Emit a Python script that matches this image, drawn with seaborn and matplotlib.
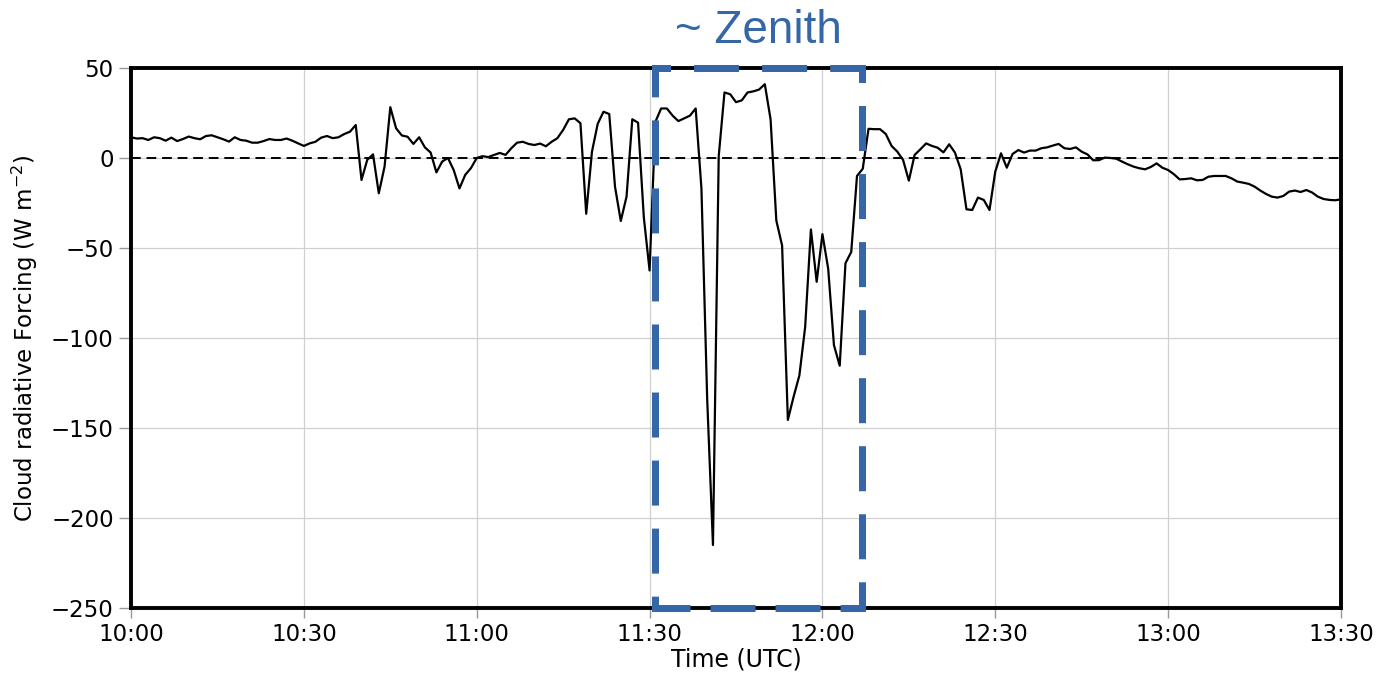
import numpy as np
import pandas as pd
import matplotlib
matplotlib.use("Agg")
import matplotlib.pyplot as plt
import seaborn as sns

# minutes after 10:00 UTC, one sample per minute
minutes = list(range(0, 211))
forcing = [
    11.5, 10.8, 11.0, 10.0, 11.5, 11.0, 9.6, 11.3, 9.4, 10.5,
    11.9, 11.0, 10.4, 12.2, 12.6, 11.5, 10.4, 9.1, 11.5, 10.0,
    9.6, 8.5, 8.5, 9.4, 10.5, 10.0, 10.0, 10.8, 9.6, 8.1,
    6.7, 8.1, 9.0, 11.3, 12.2, 11.0, 11.5, 13.3, 14.6, 18.3,
    -12.2, -1.0, 2.0, -19.6, -4.8, 28.2, 16.5, 12.5, 11.8, 7.8,
    11.5, 5.9, 3.0, -8.0, -2.0, 0.0, -6.7, -16.9, -9.4, -5.6,
    0.0, 1.0, 0.5, 1.7, 2.8, 1.7, 5.4, 8.5, 9.0, 7.8,
    7.2, 8.0, 6.5, 9.0, 11.0, 15.6, 21.5, 22.0, 19.3, -31.0,
    3.5, 19.0, 25.7, 24.4, -16.0, -35.0, -21.5, 21.5, 19.6, -33.0,
    -62.5, 20.0, 27.5, 27.5, 23.5, 20.5, 22.0, 23.5, 27.5, -17.0,
    -134.0, -215.0, 1.0, 36.4, 35.4, 31.0, 32.0, 36.4, 37.0, 38.0,
    41.0, 21.5, -34.8, -48.6, -145.5, -132.6, -120.8, -94.0, -39.7, -68.8,
    -42.3, -61.5, -104.0, -115.4, -58.5, -52.2, -10.0, -6.0, 16.2, 16.0,
    16.0, 13.3, 6.7, 3.5, -1.1, -12.6, 1.7, 4.8, 8.1, 6.7,
    5.7, 3.1, 7.6, 3.0, -6.3, -28.5, -28.9, -22.0, -23.3, -28.9,
    -7.6, 2.6, -5.4, 2.2, 4.4, 3.0, 4.1, 4.1, 5.4, 5.9,
    6.9, 7.8, 5.4, 5.0, 5.9, 3.5, 2.0, -1.3, -1.2, 0.2,
    0.0, -0.4, -2.0, -3.5, -4.8, -5.7, -6.3, -5.0, -3.0, -5.4,
    -6.7, -9.0, -11.9, -11.7, -11.3, -12.4, -12.2, -10.4, -10.0, -10.0,
    -10.0, -11.3, -13.1, -13.7, -14.4, -15.9, -18.1, -20.0, -21.5, -22.0,
    -21.1, -18.7, -18.1, -18.9, -17.8, -19.2, -21.5, -22.8, -23.3, -23.5,
    -23.0,
]
tick_minutes = [0, 30, 60, 90, 120, 150, 180, 210]
tick_labels = ["10:00", "10:30", "11:00", "11:30", "12:00", "12:30", "13:00", "13:30"]
y_ticks = [50, 0, -50, -100, -150, -200, -250]
zenith_window = [90.9, 126.8]   # minutes, box around zenith

df = pd.DataFrame({"minute": minutes, "crf": forcing})

sns.set_style("whitegrid")
plt.rcParams["font.family"] = ["DejaVu Sans"]
plt.rcParams["text.color"] = "black"
plt.rcParams["axes.labelcolor"] = "black"

fig = plt.figure(figsize=(13.81, 6.73), dpi=100)
ax = fig.add_axes([0.0949, 0.0966, 0.8761, 0.8024])

sns.lineplot(data=df, x="minute", y="crf", color="black", linewidth=1.6, ax=ax)
ax.axhline(0, color="black", linestyle="--", linewidth=1.4, dashes=(5, 3))

ax.set_xlim(0, 210)
ax.set_ylim(-250, 50)
ax.set_xticks(tick_minutes)
ax.set_xticklabels(tick_labels)
ax.set_yticks(y_ticks)
ax.tick_params(axis="both", labelsize=16.5, color="#999999", width=1,
               labelcolor="black", bottom=True, left=True)
ax.tick_params(axis="x", length=7, pad=4)
ax.tick_params(axis="y", length=9, pad=3.5)
ax.grid(True, color="#d0d0d0", linewidth=0.9)

ax.set_xlabel("Time (UTC)", fontsize=17, labelpad=1)
ax.set_ylabel("Cloud radiative Forcing (W m$^{-2}$)", fontsize=16.5)
ax.yaxis.set_label_coords(-0.0755, 0.5)

for s in ax.spines.values():
    s.set_color("black")
    s.set_linewidth(2.8)

# dashed box drawn side by side so each corner keeps a dash
blue = "#3566a8"
x0, x1 = zenith_window
y0, y1 = -250, 50
on, off = 5.43, 4.29
sides = [
    ([x0, x1], [y1, y1], (3.71, (on, off))),   # top
    ([x0, x0], [y1, y0], (1.81, (on, off))),   # left
    ([x1, x1], [y1, y0], (3.86, (on, off))),   # right
    ([x0, x1], [y0, y0], (0.93, (on, 3.86))),  # bottom
]
for xs, ys, ls in sides:
    ax.plot(xs, ys, color=blue, linewidth=5.04, linestyle=ls,
            dash_capstyle="projecting", clip_on=False, zorder=5)

ax.annotate("~ Zenith", xy=(sum(zenith_window) / 2, 1),
            xycoords=("data", "axes fraction"), xytext=(0, 18),
            textcoords="offset points", ha="center", va="baseline",
            color=blue, fontsize=33, family=["Liberation Sans", "DejaVu Sans"])

fig.savefig("out.png", dpi=100)
